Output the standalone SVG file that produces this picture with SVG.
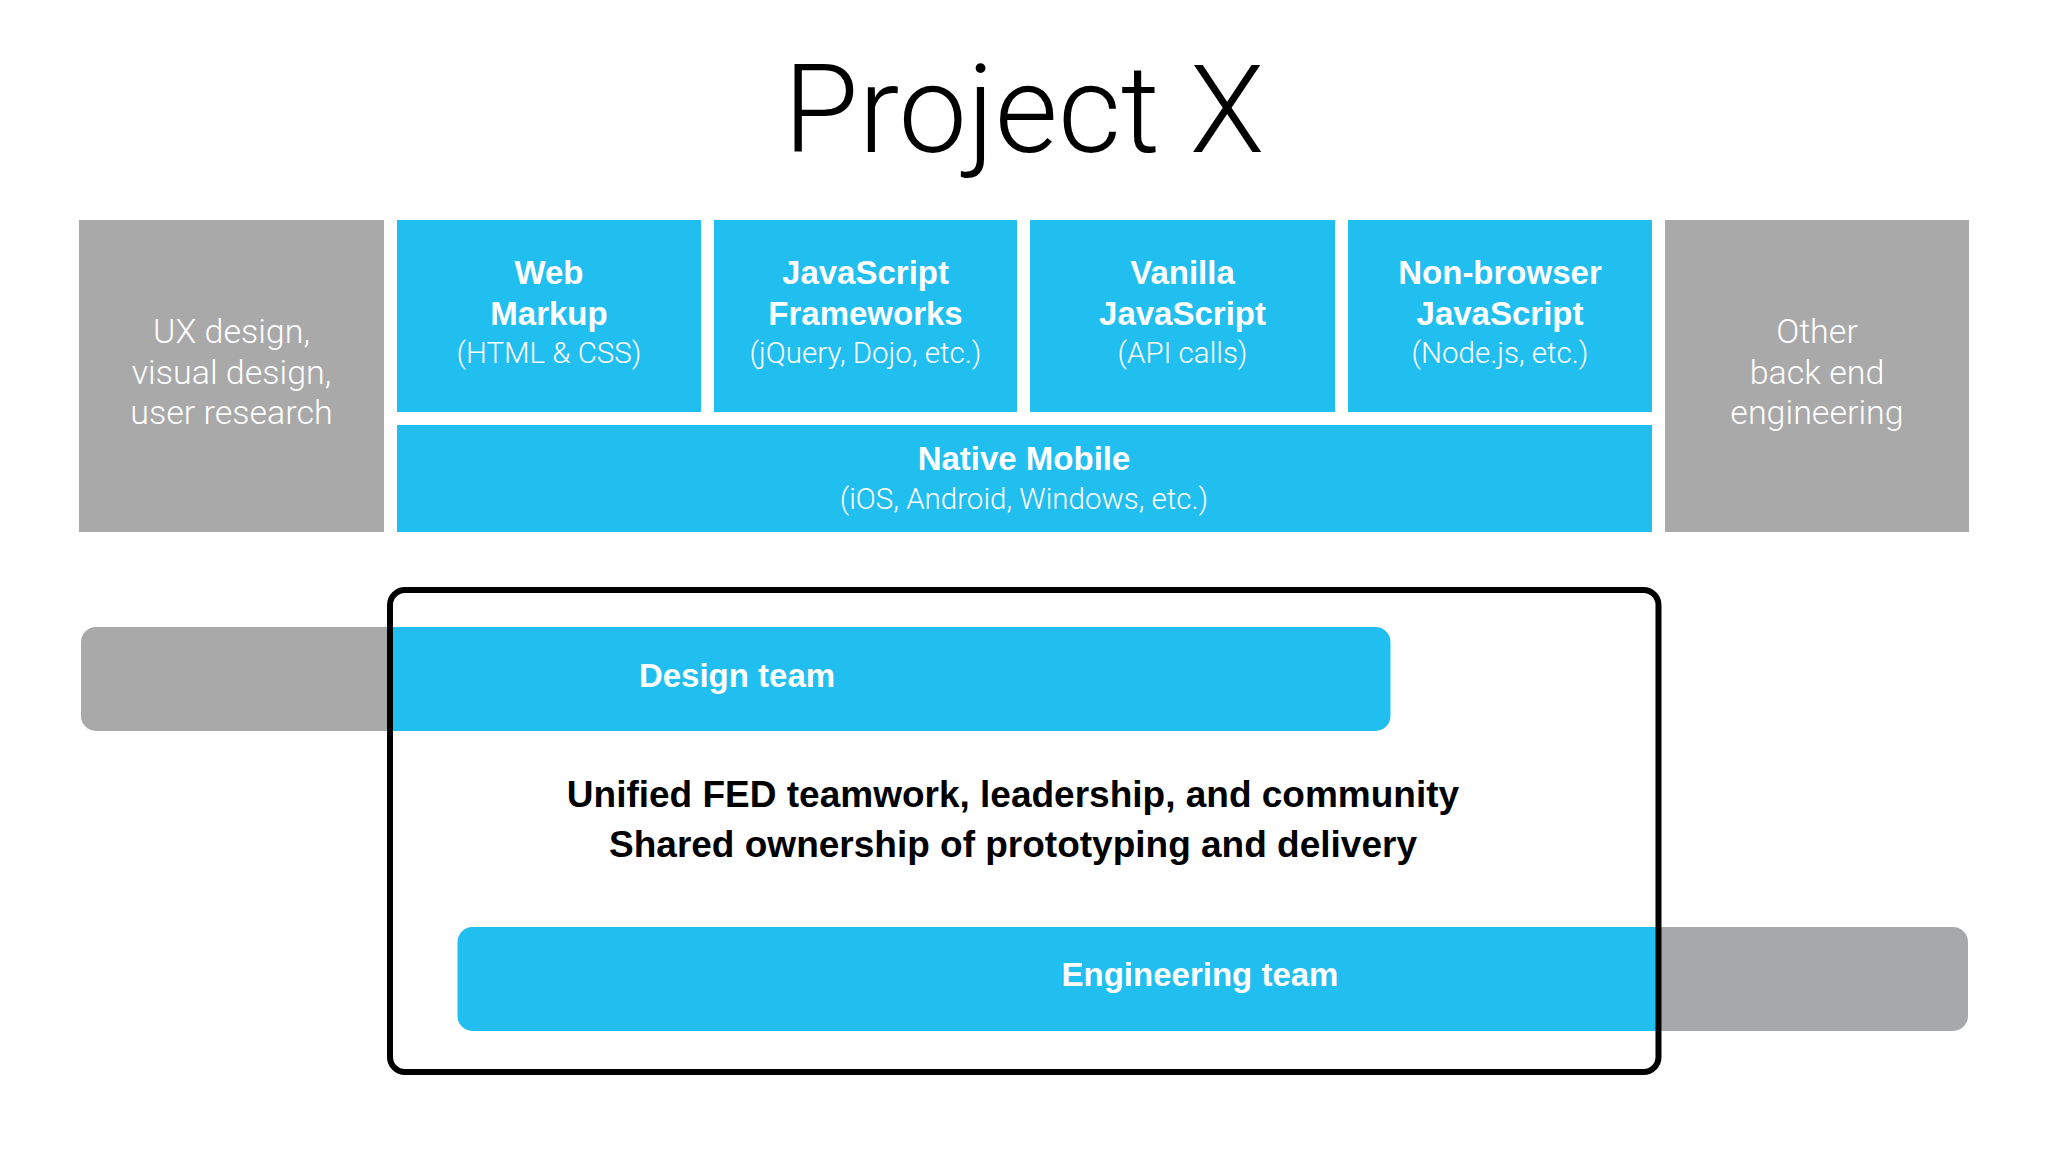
<svg xmlns="http://www.w3.org/2000/svg" width="2048" height="1152" viewBox="0 0 2048 1152">
<style>
.bg{fill:#ffffff}
.blue{fill:#21bef0}
.gray{fill:#a9a9a9}
.gray2{fill:#a6a8a9}
.title{font-family:Roboto,"Liberation Sans",sans-serif;font-weight:300;font-size:122px;fill:#000;text-anchor:middle}
.b{font-family:"Liberation Sans",Arial,sans-serif;font-weight:bold;font-size:33px;fill:#fff;text-anchor:middle}
.l{font-family:Roboto,"Liberation Sans",sans-serif;font-weight:300;font-size:29.5px;fill:#fff;text-anchor:middle}
.lg{font-family:Roboto,"Liberation Sans",sans-serif;font-weight:300;font-size:34px;fill:#fff;text-anchor:middle}
.body{font-family:"Liberation Sans",Arial,sans-serif;font-weight:bold;font-size:37px;fill:#000;text-anchor:middle}
.frame{fill:none;stroke:#000;stroke-width:6}
</style>
<rect class="bg" x="0" y="0" width="2048" height="1152"/>
<g id="title">
<text class="title" x="1024" y="152">Project X</text>
</g>
<g id="ux">
<rect class="gray" x="79" y="220" width="305" height="312"/>
<text class="lg" x="231.5" y="343">UX design,</text>
<text class="lg" x="231.5" y="384">visual design,</text>
<text class="lg" x="231.5" y="424">user research</text>
</g>
<g id="web-markup">
<rect class="blue" x="397" y="220" width="304" height="192"/>
<text class="b" x="549" y="284">Web</text>
<text class="b" x="549" y="325">Markup</text>
<text class="l" x="549" y="363">(HTML &amp; CSS)</text>
</g>
<g id="js-frameworks">
<rect class="blue" x="714" y="220" width="303" height="192"/>
<text class="b" x="865.5" y="284">JavaScript</text>
<text class="b" x="865.5" y="325">Frameworks</text>
<text class="l" x="865.5" y="363">(jQuery, Dojo, etc.)</text>
</g>
<g id="vanilla-js">
<rect class="blue" x="1030" y="220" width="305" height="192"/>
<text class="b" x="1182.5" y="284">Vanilla</text>
<text class="b" x="1182.5" y="325">JavaScript</text>
<text class="l" x="1182.5" y="363">(API calls)</text>
</g>
<g id="non-browser-js">
<rect class="blue" x="1348" y="220" width="304" height="192"/>
<text class="b" x="1500" y="284">Non-browser</text>
<text class="b" x="1500" y="325">JavaScript</text>
<text class="l" x="1500" y="363">(Node.js, etc.)</text>
</g>
<g id="native-mobile">
<rect class="blue" x="397" y="425" width="1255" height="107"/>
<text class="b" x="1024" y="469.5">Native Mobile</text>
<text class="l" x="1024" y="509">(iOS, Android, Windows, etc.)</text>
</g>
<g id="backend">
<rect class="gray" x="1665" y="220" width="304" height="312"/>
<text class="lg" x="1817" y="343">Other</text>
<text class="lg" x="1817" y="384">back end</text>
<text class="lg" x="1817" y="424">engineering</text>
</g>
<g id="design-team">
<rect class="gray" x="81" y="627" width="340" height="104" rx="15" ry="15"/>
<path class="blue" d="M391 627 H1375.5 A15 15 0 0 1 1390.5 642 V716 A15 15 0 0 1 1375.5 731 H391 Z"/>
<text class="b" x="737" y="686.5">Design team</text>
</g>
<g id="engineering-team">
<rect class="gray2" x="1620" y="927" width="348" height="104" rx="15" ry="15"/>
<path class="blue" d="M1658 927 H472.5 A15 15 0 0 0 457.5 942 V1016 A15 15 0 0 0 472.5 1031 H1658 Z"/>
<text class="b" x="1200" y="985.5">Engineering team</text>
</g>
<g id="fed">
<rect class="frame" x="390" y="590" width="1268.5" height="482" rx="15" ry="15"/>
<text class="body" x="1013" y="807">Unified FED teamwork, leadership, and community</text>
<text class="body" x="1013" y="857">Shared ownership of prototyping and delivery</text>
</g>
<g id="connectors"/>
</svg>
